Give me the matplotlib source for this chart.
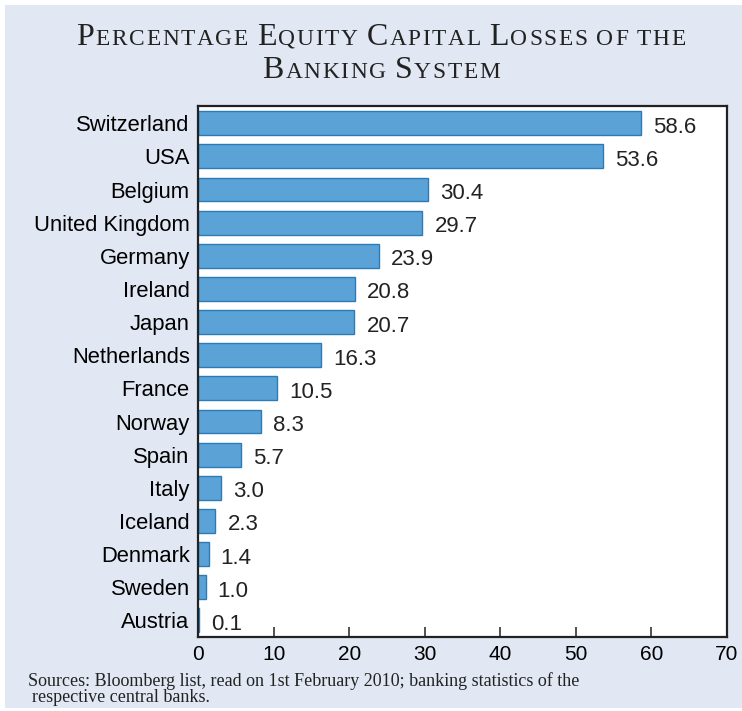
import matplotlib
matplotlib.use("Agg")
import matplotlib.pyplot as plt
from matplotlib.patches import Rectangle

countries = ["Switzerland", "USA", "Belgium", "United Kingdom", "Germany", "Ireland",
             "Japan", "Netherlands", "France", "Norway", "Spain", "Italy", "Iceland",
             "Denmark", "Sweden", "Austria"]
values = [58.6, 53.6, 30.4, 29.7, 23.9, 20.8, 20.7, 16.3, 10.5, 8.3, 5.7, 3.0, 2.3, 1.4, 1.0, 0.1]
xticks = [0, 10, 20, 30, 40, 50, 60, 70]

W, H = 742, 711
fig = plt.figure(figsize=(W / 100, H / 100), dpi=100)
fig.patch.set_facecolor("white")
bg = Rectangle((5 / W, 0.004), 1 - 5 / W, 1 - 5 / H - 0.004, transform=fig.transFigure,
               facecolor="#E1E8F3", edgecolor="none", zorder=-10)
fig.patches.append(bg)

ax = fig.add_axes([198 / W, 1 - 637 / H, (727 - 198) / W, (637 - 106) / H])
ax.set_facecolor("white")
ypos = list(range(len(countries)))
ax.barh(ypos, values, height=0.72, color="#5BA3D6", edgecolor="#2B7BB9", linewidth=1.0)
ax.set_ylim(len(countries) - 0.5, -0.52)
ax.set_xlim(0, 70)
ax.set_yticks(ypos)
ax.set_yticklabels(countries, fontsize=15.8, family="Liberation Sans")
ax.set_xticks(xticks)
ax.set_xticklabels([str(t) for t in xticks], fontsize=15, family="Liberation Sans")
ax.tick_params(axis="y", length=0, pad=6)
ax.tick_params(axis="x", direction="in", length=7, width=1.2, pad=6, color="#333333")
for s in ax.spines.values():
    s.set_linewidth(1.6)
    s.set_color("#222222")

for y, v in zip(ypos, values):
    ax.text(v + 1.6, y + 0.12, f"{v:.1f}", va="center", ha="left", fontsize=16,
            family="Liberation Sans", color="#222222")

# Small-caps title with letter tracking
fig.canvas.draw()
renderer = fig.canvas.get_renderer()
BIG, SMALL = 23.0, 16.8
TRACK = 1.6


def smallcaps_line(words, y_px):
    pieces = []
    for wi, w in enumerate(words):
        if wi > 0:
            pieces.append((" ", SMALL))
        for ch in w:
            pieces.append((ch.upper(), BIG if ch.isupper() else SMALL))
    texts = []
    widths = []
    for t, s in pieces:
        tx = fig.text(0, 1 - y_px / H, t, fontsize=s, family="Liberation Serif",
                      va="baseline", ha="left", color="#222222")
        texts.append(tx)
        if t == " ":
            widths.append(s * 100 / 72 * 0.25)
        else:
            widths.append(tx.get_window_extent(renderer).width)
    total = sum(widths) + TRACK * (len(texts) - 1)
    x = W / 2 + 10 - total / 2
    for tx, wd in zip(texts, widths):
        tx.set_x(x / W)
        x += wd + TRACK


smallcaps_line(["Percentage", "Equity", "Capital", "Losses", "of", "the"], 45)
smallcaps_line(["Banking", "System"], 78)

fig.text(28 / W, 1 - 686 / H,
         "Sources: Bloomberg list, read on 1st February 2010; banking statistics of the",
         fontsize=13.0, family="Liberation Serif", va="baseline", ha="left", color="#222222")
fig.text(32 / W, 1 - 702 / H, "respective central banks.",
         fontsize=13.0, family="Liberation Serif", va="baseline", ha="left", color="#222222")

fig.savefig("out.png", dpi=100)
